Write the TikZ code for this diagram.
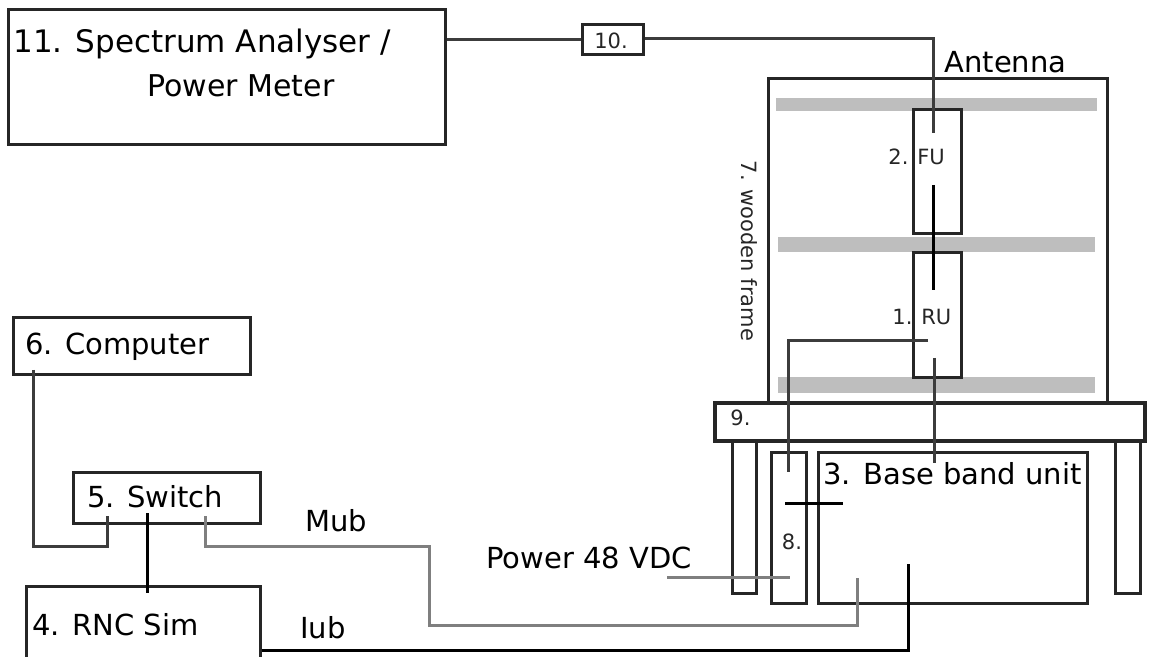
\documentclass[tikz,border=0pt]{standalone}
\usepackage{fontspec}
\setmainfont{DejaVu Sans}
\definecolor{boxc}{HTML}{262626}
\definecolor{darkw}{HTML}{3C3C3C}
\definecolor{grayw}{HTML}{7F7F7F}
\definecolor{barc}{HTML}{BEBEBE}
\begin{document}
\begin{tikzpicture}[x=0.5pt,y=-0.5pt,
  box/.style={draw=boxc,line width=1.5pt,inner sep=0pt,fill=white},
  bigtxt/.style={font=\fontsize{14.5}{17}\selectfont,inner sep=0pt,text=black},
  smalltxt/.style={font=\fontsize{10.5}{12}\selectfont,inner sep=0pt,text=black!85},
  wire/.style={line width=1.5pt,draw=black},
  dwire/.style={line width=1.5pt,draw=darkw},
  gwire/.style={line width=1.5pt,draw=grayw},
  bar/.style={fill=barc,draw=none}]
\useasboundingbox (0,0) rectangle (1156,657);

% ---- left column boxes
\node[box,minimum width=218.5pt,minimum height=67.5pt] (sa) at (226.5,77.5) {};
\node[bigtxt,anchor=west,font=\fontsize{15.5}{18}\selectfont] (satxt1) at (13,44) {11. Spectrum Analyser /};
\node[bigtxt,anchor=west,font=\fontsize{15}{18}\selectfont] (satxt2) at (147,86) {Power Meter};

\node[box,minimum width=30.5pt,minimum height=15pt] (att) at (612.5,40) {};
\node[smalltxt] (atttxt) at (611,41) {10.};

\node[box,minimum width=118.5pt,minimum height=28.5pt] (pc) at (131.5,346.5) {};
\node[bigtxt,anchor=west] (pctxt) at (25,347) {6. Computer};

\node[box,minimum width=93.5pt,minimum height=25.5pt] (sw) at (166.5,497.5) {};
\node[bigtxt,anchor=west] (swtxt) at (87,497) {5. Switch};

\node[box,minimum width=117pt,minimum height=39.5pt] (rnc) at (143,625.5) {};
\node[bigtxt,anchor=west] (rnctxt) at (32,625) {4. RNC Sim};

% ---- wooden frame with antenna
\node[box,fill=none,minimum width=169.5pt,minimum height=162pt] (frame) at (937.5,241) {};
\node[smalltxt,rotate=-90] (frametxt) at (749,251) {7. wooden frame};
\node[bigtxt,anchor=west] (anttxt) at (944,62) {Antenna};
\fill[bar] (776,98) rectangle (1097,111);
\fill[bar] (778,237) rectangle (1095,252);
\fill[bar] (778,377) rectangle (1095,393);
\node[box,minimum width=24pt,minimum height=62pt] (fu) at (937,172) {};
\node[smalltxt,anchor=west] (futxt) at (888,157) {2. FU};
\node[box,minimum width=24pt,minimum height=62.5pt] (ru) at (937,315.5) {};
\node[smalltxt,anchor=west] (rutxt) at (892,317) {1. RU};

% ---- table
\node[box,minimum width=12pt,minimum height=76pt] (legl) at (744,517) {};
\node[box,minimum width=12.5pt,minimum height=76pt] (legr) at (1127.5,517) {};
\node[box,line width=2pt,minimum width=215pt,minimum height=19pt] (table) at (930,422) {};
\node[smalltxt,anchor=west] (tabletxt) at (730,418) {9.};

\node[box,minimum width=17.5pt,minimum height=75.5pt] (pdu) at (788.5,527.5) {};
\node[smalltxt] (pdutxt) at (792,542) {8.};
\node[box,minimum width=134.5pt,minimum height=75.5pt] (bbu) at (952.5,527.5) {};
\node[bigtxt,anchor=west] (bbutxt) at (823,474) {3. Base band unit};

\node[bigtxt,anchor=west] (mubtxt) at (305,521) {Mub};
\node[bigtxt,anchor=west] (iubtxt) at (300,628) {Iub};
\node[bigtxt,anchor=west] (pwrtxt) at (486,558) {Power 48 VDC};

% ---- connector end points
\coordinate (c-att-top) at (933,39);
\coordinate (c-fu-in) at (933,133);
\coordinate (c-fu-out) at (933,185);
\coordinate (c-ru-in) at (933,290);
\coordinate (c-ru-a) at (928,341);
\coordinate (c-pdu-in) at (788,472);
\coordinate (c-ru-b) at (934,358);
\coordinate (c-bbu-in) at (934,463);
\coordinate (c-cross-a) at (785,503);
\coordinate (c-cross-b) at (843,503);
\coordinate (c-pwr) at (667,577);
\coordinate (c-pwr-in) at (790,577);
\coordinate (c-sw-mub) at (205,516);
\coordinate (c-bbu-mub) at (857,578);
\coordinate (c-bbu-iub) at (908,564);
\coordinate (c-pc-out) at (33,370);
\coordinate (c-sw-pc) at (107,516);
\coordinate (c-sw-rnc) at (147,513);
\coordinate (c-rnc-sw) at (147,593);

% ---- connectors
\draw[dwire] (sa.east |- 0,40) -- (att.west |- 0,40);
\draw[dwire] (att.east |- 0,39) -- (c-att-top) -- (c-fu-in);
\draw[wire] (c-fu-out) -- (c-ru-in);
\draw[dwire] (c-ru-a) -| (c-pdu-in);
\draw[dwire] (c-ru-b) -- (c-bbu-in);
\draw[wire] (c-cross-a) -- (c-cross-b);
\draw[gwire] (c-pwr) -- (c-pwr-in);
\draw[gwire] (c-sw-mub) |- (429,546) |- (857,625) -- (c-bbu-mub);
\draw[wire] (rnc.east |- 0,650) -| (c-bbu-iub);
\draw[dwire] (c-pc-out) |- (c-sw-pc |- 0,546) -- (c-sw-pc);
\draw[wire] (c-sw-rnc) -- (c-rnc-sw);
\end{tikzpicture}
\end{document}
